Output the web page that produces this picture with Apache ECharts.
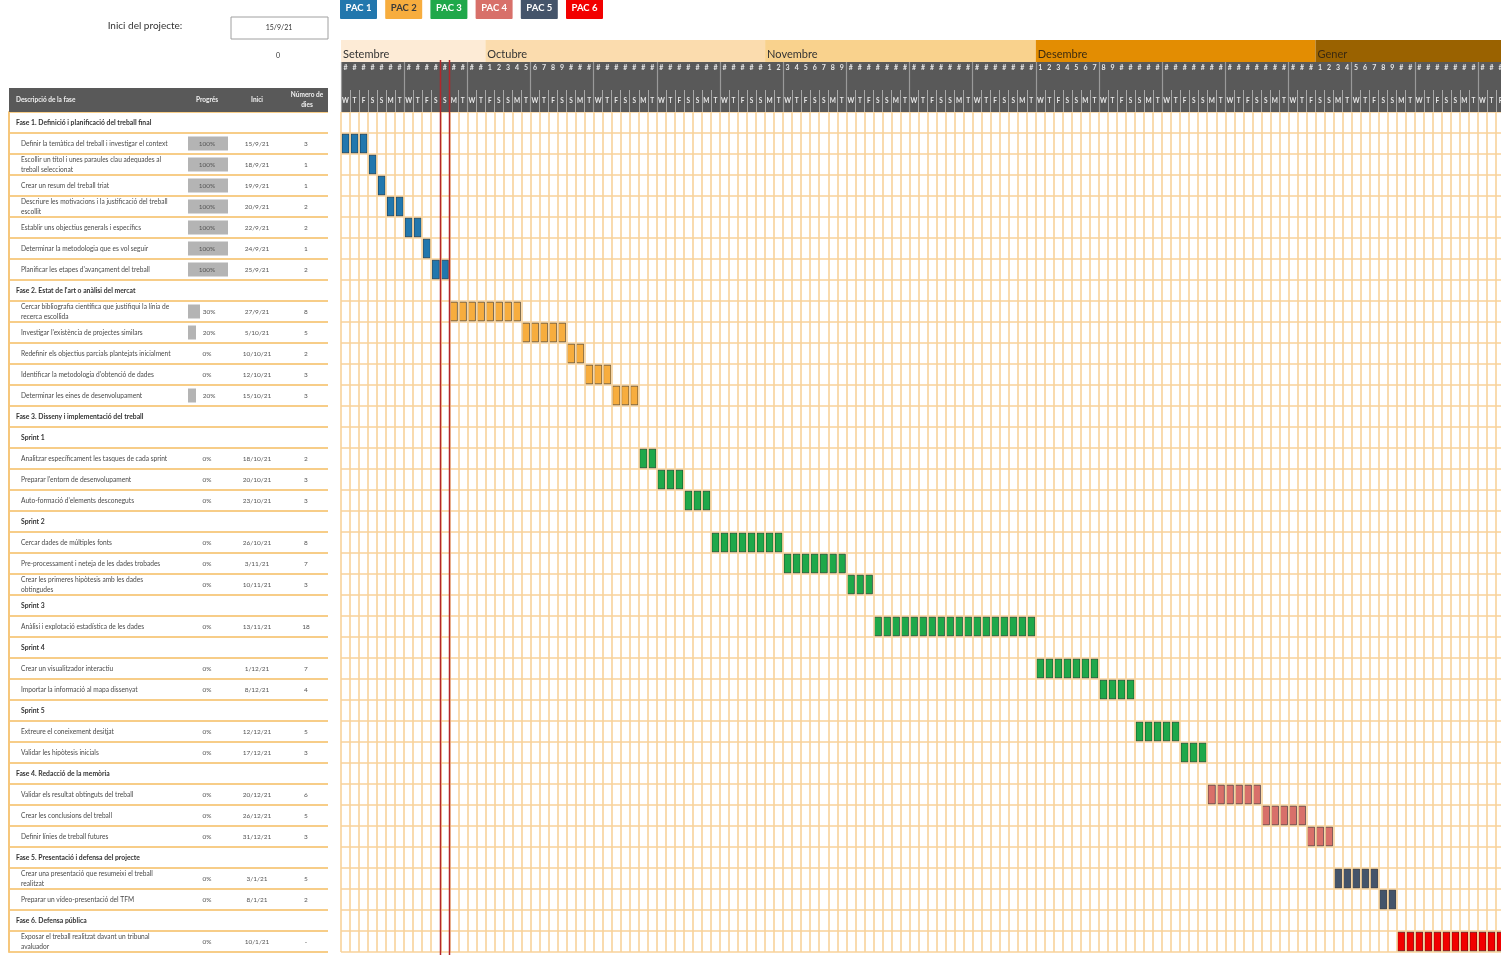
<!DOCTYPE html>
<html><head><meta charset="utf-8">
<script src="https://cdn.jsdelivr.net/npm/echarts@6/dist/echarts.min.js"></script>
<style>html,body{margin:0;padding:0;background:#fff}#c{width:1501px;height:955px}</style>
</head><body><div id="c"></div>
<script>
const FONT = 'Lato, "Open Sans", sans-serif';
const projectStart = '15/9/21';
const todayLabel = '26/9/21';
const viewDays = 129;

const rowTypes = ['P','T','T','T','T','T','T','T','P','T','T','T','T','T','P','S','T','T','T','S','T','T','T','S','T','S','T','T','S','T','T','P','T','T','T','P','T','T','P','T'];
const descriptions = [
 'Fase 1. Definició i planificació del treball final',
 'Definir la temàtica del treball i investigar el context',
 'Escollir un títol i unes paraules clau adequades al\ntreball seleccionat',
 'Crear un resum del treball triat',
 'Descriure les motivacions i la justificació del treball\nescollit',
 'Establir uns objectius generals i específics',
 'Determinar la metodologia que es vol seguir',
 "Planificar les etapes d'avançament del treball",
 "Fase 2. Estat de l'art o anàlisi del mercat",
 'Cercar bibliografia científica que justifiqui la línia de\nrecerca escollida',
 "Investigar l'existència de projectes similars",
 'Redefinir els objectius parcials plantejats inicialment',
 "Identificar la metodologia d'obtenció de dades",
 'Determinar les eines de desenvolupament',
 'Fase 3. Disseny i implementació del treball',
 'Sprint 1',
 'Analitzar específicament les tasques de cada sprint',
 "Preparar l'entorn de desenvolupament",
 "Auto-formació d'elements desconeguts",
 'Sprint 2',
 'Cercar dades de múltiples fonts',
 'Pre-processament i neteja de les dades trobades',
 'Crear les primeres hipòtesis amb les dades\nobtingudes',
 'Sprint 3',
 'Anàlisi i explotació estadística de les dades',
 'Sprint 4',
 'Crear un visualitzador interactiu',
 'Importar la informació al mapa dissenyat',
 'Sprint 5',
 'Extreure el coneixement desitjat',
 'Validar les hipòtesis inicials',
 'Fase 4. Redacció de la memòria',
 'Validar els resultat obtinguts del treball',
 'Crear les conclusions del treball',
 'Definir línies de treball futures',
 'Fase 5. Presentació i defensa del projecte',
 'Crear una presentació que resumeixi el treball\nrealitzat',
 "Preparar un vídeo-presentació del TFM",
 'Fase 6. Defensa pública',
 'Exposar el treball realitzat davant un tribunal\navaluador'
];
const progress = [null,100,100,100,100,100,100,100,null,30,20,0,0,20,null,null,0,0,0,null,0,0,0,null,0,null,0,0,null,0,0,null,0,0,0,null,0,0,null,0];
const startLabels = ['','15/9/21','18/9/21','19/9/21','20/9/21','22/9/21','24/9/21','25/9/21','','27/9/21','5/10/21','10/10/21','12/10/21','15/10/21','','','18/10/21','20/10/21','23/10/21','','26/10/21','3/11/21','10/11/21','','13/11/21','','1/12/21','8/12/21','','12/12/21','17/12/21','','20/12/21','26/12/21','31/12/21','','3/1/21','8/1/21','','10/1/21'];
const durationLabels = ['','3','1','1','2','2','1','2','','8','5','2','3','3','','','2','3','3','','8','7','3','','18','','7','4','','5','3','','6','5','3','','5','2','','-'];
const durations = [0,3,1,1,2,2,1,2,0,8,5,2,3,3,0,0,2,3,3,0,8,7,3,0,18,0,7,4,0,5,3,0,6,5,3,0,5,2,0,12];
const pacIndex = [0,0,0,0,0,0,0,0,1,1,1,1,1,1,2,2,2,2,2,2,2,2,2,2,2,2,2,2,2,2,2,3,3,3,3,4,4,4,5,5];

const pacNames = ['PAC 1','PAC 2','PAC 3','PAC 4','PAC 5','PAC 6'];
const pacColors = ['#2277ad','#f7ad3e','#1fa84a','#d8706a','#44546a','#f20000'];
const pacTextColors = ['#ffffff','#3a3a3a','#ffffff','#ffffff','#ffffff','#ffffff'];

const monthNames = ['Setembre','Octubre','Novembre','Desembre','Gener'];
const monthStarts = ['1/9/21','1/10/21','1/11/21','1/12/21','1/1/22'];
const monthColors = ['#fdebd6','#fbdcae','#f9d28d','#e38d02','#9a6200'];
const weekdayLetters = ['M','T','W','T','F','S','S'];

function parseDate(label){
  const p = label.split('/').map(Number);
  // January dates in the sheet are written with year 21 but follow December 2021
  const year = (p[2] === 21 && p[1] < 9) ? 2022 : 2000 + p[2];
  return Date.UTC(year, p[1]-1, p[0]);
}
const startMs = parseDate(projectStart);
function dayOffset(label){ return Math.round((parseDate(label) - startMs) / 86400000); }

const dayNumbers = [], dayLetters = [];
for (let i = 0; i < viewDays; i++) {
  const dt = new Date(startMs + i*86400000);
  const d = dt.getUTCDate();
  dayNumbers.push(d <= 9 ? String(d) : '#');
  dayLetters.push(weekdayLetters[(dt.getUTCDay()+6)%7]);
}
const monthData = monthNames.map((n,i)=>{
  const s = Math.max(0, dayOffset(monthStarts[i]));
  const e = i+1 < monthStarts.length ? dayOffset(monthStarts[i+1]) : viewDays;
  return [s, Math.min(viewDays, e), i];
});
const pacData = pacNames.map(()=>[]);
rowTypes.forEach((t,i)=>{ if (t==='T') pacData[pacIndex[i]].push([dayOffset(startLabels[i]), durations[i], i]); });
const todayDay = dayOffset(todayLabel);
const rowCats = descriptions.map((_,i)=>String(i));

const GRID_LINE = '#f8d29a';

const chart = echarts.init(document.getElementById('c'), null, {renderer:'canvas'});

const barSeries = pacNames.map((name, p) => ({
  type:'custom', name, xAxisIndex:0, yAxisIndex:0, z:4,
  data: pacData[p], encode:{x:0, y:2},
  renderItem(params, api){
    const s = api.value(0), dur = api.value(1), row = api.value(2);
    const h = api.size([0,1])[1];
    const cy = api.coord([s,row])[1];
    const children = [];
    for (let k = 0; k < dur; k++) {
      const x1 = api.coord([s+k,row])[0], x2 = api.coord([s+k+1,row])[0];
      children.push({type:'rect', shape:{x:x1+0.9, y:cy-h/2+1.2, width:x2-x1-1.8, height:h-2.4},
        style:{fill:pacColors[p], stroke:echarts.color.modifyHSL(pacColors[p], null, null, -0.06), lineWidth:0.5}});
    }
    return {type:'group', children};
  }
}));

const option = {
  animation:false,
  backgroundColor:'#ffffff',
  textStyle:{fontFamily:FONT},
  grid:[
    {left:341, top:112, width:1164, height:840, outerBoundsMode:'none', containLabel:false},
    {left:9, top:112, width:319, height:840, outerBoundsMode:'none', containLabel:false}
  ],
  xAxis:[
    {gridIndex:0, type:'value', min:0, max:viewDays, interval:1, z:5,
     axisLine:{show:false}, axisTick:{show:false}, axisLabel:{show:false},
     splitLine:{show:true, lineStyle:{color:GRID_LINE, width:1.6}}},
    {gridIndex:0, type:'category', position:'top', data:dayNumbers, z:6,
     axisLine:{show:false}, axisTick:{show:false},
     axisLabel:{interval:0, margin:41, fontSize:7, fontWeight:'bold', color:'#e8e8e8', fontFamily:FONT}},
    {gridIndex:0, type:'category', position:'top', data:dayLetters, z:6,
     axisLine:{show:false},
     axisTick:{show:true, interval:0, length:22, lineStyle:{color:'#a8a8a8', width:1}},
     axisLabel:{interval:0, margin:8, fontSize:6.5, fontWeight:'bold', color:'#e8e8e8', fontFamily:FONT}},
    {gridIndex:0, type:'value', position:'top', min:0, max:viewDays, interval:7, z:6,
     axisLine:{show:false}, axisLabel:{show:false}, splitLine:{show:false},
     axisTick:{show:true, length:50, lineStyle:{color:'#9a9a9a', width:1.2}}},
    {gridIndex:1, type:'value', min:0, max:319, show:false}
  ],
  yAxis:[
    {gridIndex:0, type:'category', data:rowCats, inverse:true,
     axisLine:{show:false}, axisTick:{show:false}, axisLabel:{show:false},
     splitLine:{show:true, lineStyle:{color:GRID_LINE, width:1.6}}},
    {gridIndex:1, type:'category', data:rowCats, inverse:true, position:'right',
     axisLine:{show:true, lineStyle:{color:'#f6c77c', width:2}}, axisTick:{show:false}, axisLabel:{show:false},
     splitLine:{show:true, lineStyle:{color:'#f7cd88', width:2}}}
  ],
  graphic:[
    {type:'rect', z:1, shape:{x:341, y:62, width:1170, height:50}, style:{fill:'#595959'}},
    {type:'rect', z:1, shape:{x:9, y:88, width:319, height:24}, style:{fill:'#595959'}},
    {type:'text', z:2, x:16, y:100, style:{text:'Descripció de la fase', fill:'#f0f0f0', font:'bold 6.5px '+FONT, verticalAlign:'middle'}},
    {type:'text', z:2, x:207, y:100, style:{text:'Progrés', fill:'#f0f0f0', font:'bold 6.5px '+FONT, align:'center', verticalAlign:'middle'}},
    {type:'text', z:2, x:257, y:100, style:{text:'Inici', fill:'#f0f0f0', font:'bold 6.5px '+FONT, align:'center', verticalAlign:'middle'}},
    {type:'text', z:2, x:307, y:100, style:{text:'Número de\ndies', fill:'#f0f0f0', font:'bold 6.5px '+FONT, align:'center', verticalAlign:'middle', lineHeight:10}},
    {type:'text', z:2, x:145, y:26, style:{text:'Inici del projecte:', fill:'#333', font:'10px '+FONT, align:'center', verticalAlign:'middle'}},
    {type:'rect', z:1, shape:{x:231, y:17, width:97, height:22}, style:{fill:'#fff', stroke:'#a0a0a0', lineWidth:1}},
    {type:'text', z:2, x:279, y:28, style:{text:projectStart, fill:'#333', font:'7px '+FONT, align:'center', verticalAlign:'middle'}},
    {type:'text', z:2, x:278, y:56, style:{text:'0', fill:'#333', font:'7px '+FONT, align:'center', verticalAlign:'middle'}}
  ].concat(pacNames.map((n,i)=>({
    type:'group', x:340 + i*45.2, y:0, z:3,
    children:[
      {type:'rect', shape:{x:0, y:-2, width:37, height:21, r:1}, style:{fill:pacColors[i]}},
      {type:'text', x:18.5, y:7.5, style:{text:n, fill:pacTextColors[i], font:'bold 9.5px '+FONT, align:'center', verticalAlign:'middle'}}
    ]
  }))),
  series:[
    {type:'custom', name:'months', xAxisIndex:0, yAxisIndex:0, z:3, clip:false,
     data:monthData.map(m=>[m[0], m[1], 0, m[2]]), encode:{x:[0,1], y:2},
     renderItem(params, api){
       const i = api.value(3);
       const x1 = api.coord([api.value(0),0])[0], x2 = api.coord([api.value(1),0])[0];
       return {type:'group', children:[
         {type:'rect', shape:{x:x1, y:40, width:x2-x1, height:22}, style:{fill:monthColors[i]}},
         {type:'text', x:x1+2, y:54, style:{text:monthNames[i], fill:i>=3?'#3b2a10':'#333', font:'11px '+FONT, verticalAlign:'middle'}}
       ]};
     }},
    {type:'custom', name:'table', xAxisIndex:4, yAxisIndex:1, z:3, clip:false,
     data:descriptions.map((_,i)=>[0,i]), encode:{x:0, y:1},
     renderItem(params, api){
       const i = params.dataIndex;
       const pt = api.coord([0,i]);
       const x0 = pt[0], cy = pt[1];
       const t = rowTypes[i];
       const ch = [];
       if (t === 'P') {
         ch.push({type:'text', x:x0+7, y:cy, style:{text:descriptions[i], fill:'#333', font:'bold 6.8px '+FONT, verticalAlign:'middle'}});
       } else if (t === 'S') {
         ch.push({type:'text', x:x0+12, y:cy, style:{text:descriptions[i], fill:'#333', font:'bold 6.8px '+FONT, verticalAlign:'middle'}});
       } else {
         ch.push({type:'text', x:x0+12, y:cy, style:{text:descriptions[i], fill:'#4a4a4a', font:'6.6px '+FONT, verticalAlign:'middle', lineHeight:10}});
         const p = progress[i];
         if (p > 0) ch.push({type:'rect', shape:{x:x0+179, y:cy-7, width:40*p/100, height:14}, style:{fill:'#b4b4b4'}});
         ch.push({type:'text', x:x0+(p===100?198:(p>0?200:198)), y:cy, style:{text:p+'%', fill:'#555', font:'6.5px '+FONT, align:'center', verticalAlign:'middle'}});
         ch.push({type:'text', x:x0+248, y:cy, style:{text:startLabels[i], fill:'#555', font:'6.5px '+FONT, align:'center', verticalAlign:'middle'}});
         ch.push({type:'text', x:x0+297, y:cy, style:{text:durationLabels[i], fill:'#555', font:'6.5px '+FONT, align:'center', verticalAlign:'middle'}});
       }
       return {type:'group', children:ch};
     }},
    ...barSeries,
    {type:'custom', name:'today', xAxisIndex:0, yAxisIndex:0, z:10, clip:false,
     data:[[todayDay,0],[todayDay+1,0]], encode:{x:0, y:1},
     renderItem(params, api){
       const x = Math.round(api.coord([api.value(0),0])[0]) + 0.5;
       return {type:'line', shape:{x1:x, y1:60, x2:x, y2:955}, style:{stroke:'#b3262b', lineWidth:1.5}};
     }}
  ]
};
chart.setOption(option);
</script>
</body></html>
